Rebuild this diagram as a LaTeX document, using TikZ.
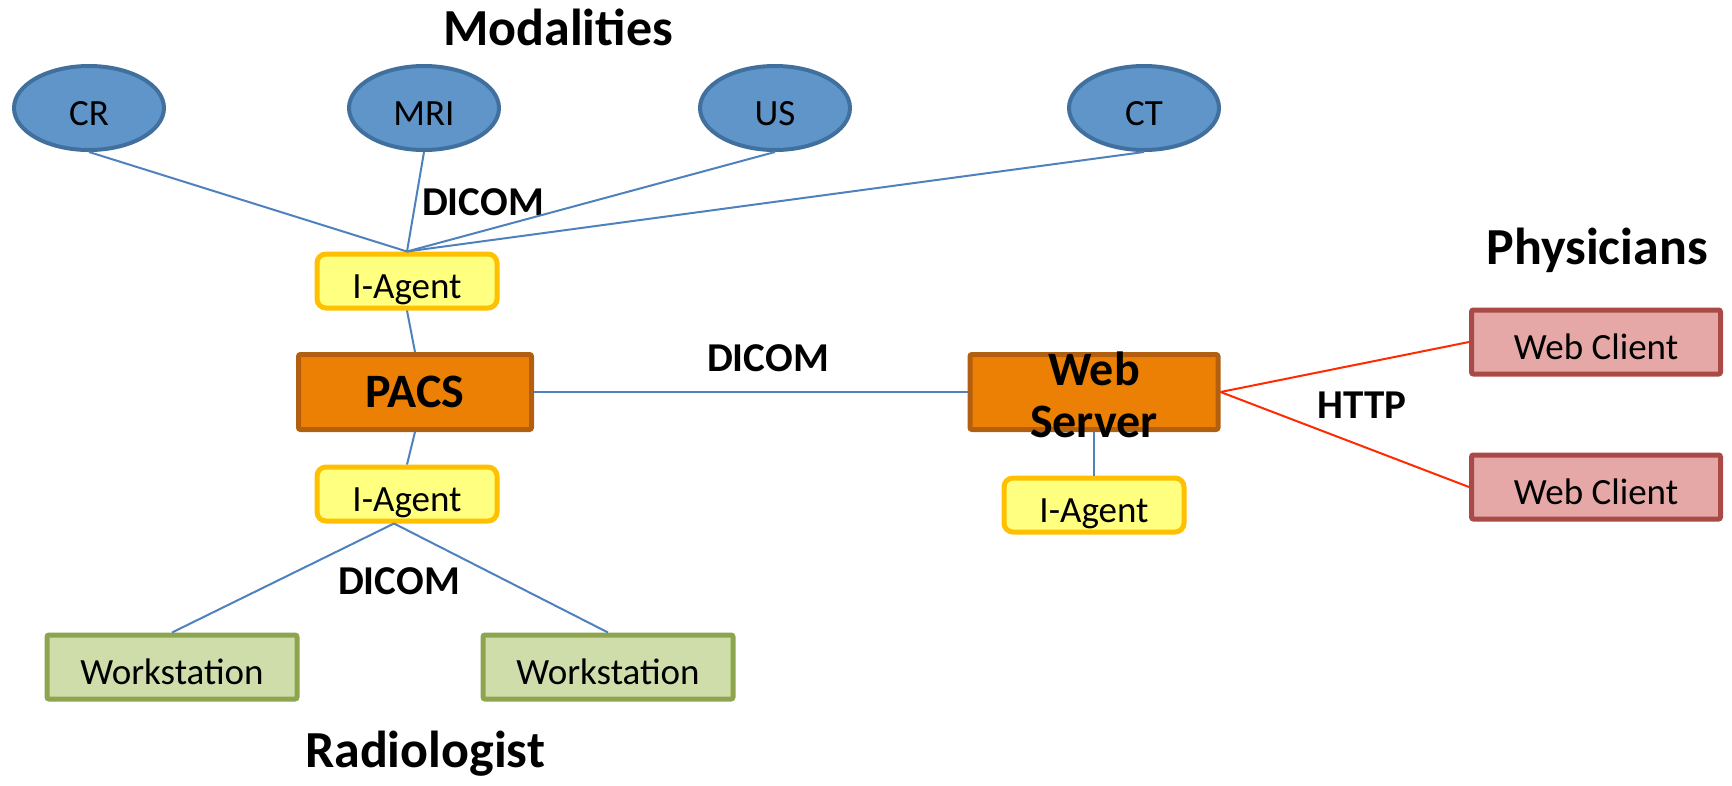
\documentclass[tikz,border=0pt]{standalone}
\usepackage{fontspec}
\setmainfont{Carlito}
\usepackage{tikz}
\usetikzlibrary{shapes.geometric}
\definecolor{modfill}{HTML}{5F95C9}
\definecolor{moddraw}{HTML}{41709E}
\definecolor{linkblue}{HTML}{4F81BD}
\definecolor{httpred}{HTML}{FF2A00}
\definecolor{agentfill}{HTML}{FFFF80}
\definecolor{agentdraw}{HTML}{FFC000}
\definecolor{srvfill}{HTML}{EB8004}
\definecolor{srvdraw}{HTML}{B2600F}
\definecolor{clientfill}{HTML}{E5A8A6}
\definecolor{clientdraw}{HTML}{AA4A47}
\definecolor{wsfill}{HTML}{CFDDAB}
\definecolor{wsdraw}{HTML}{8EA550}
\tikzset{
  lbl/.style={font=\fontsize{37}{44}\selectfont,text height=40pt,text depth=6pt},
  modality/.style={lbl,ellipse,draw=moddraw,fill=modfill,line width=4pt,minimum width=150pt,minimum height=84pt,inner sep=0pt},
  agent/.style={lbl,rectangle,rounded corners=9pt,draw=agentdraw,fill=agentfill,line width=5pt,minimum width=180pt,minimum height=54pt,inner sep=0pt},
  server/.style={rectangle,rounded corners=2pt,draw=srvdraw,fill=srvfill,line width=5pt,minimum width=233pt,minimum height=75pt,inner sep=0pt,font=\bfseries\fontsize{48}{56}\selectfont},
  client/.style={lbl,rectangle,rounded corners=2pt,draw=clientdraw,fill=clientfill,line width=5pt,minimum width=249pt,minimum height=64pt,inner sep=0pt},
  wstation/.style={lbl,rectangle,rounded corners=2pt,draw=wsdraw,fill=wsfill,line width=5pt,minimum width=250pt,minimum height=64pt,inner sep=0pt},
  title/.style={font=\bfseries\fontsize{52}{62}\selectfont},
  proto/.style={font=\bfseries\fontsize{41}{49}\selectfont},
  link/.style={draw=linkblue,line width=2pt},
  weblink/.style={draw=httpred,line width=2pt},
}
\begin{document}
\begin{tikzpicture}[x=1pt,y=1pt]
  \useasboundingbox (0,0) rectangle (1732,-785);

  % modalities
  \node[title] (modtitle) at (558,-27) {Modalities};
  \node[modality] (cr) at (89,-108) {CR};
  \node[modality] (mri) at (424,-108) {MRI};
  \node[modality] (us) at (775,-108) {US};
  \node[modality] (ct) at (1144,-108) {CT};
  \node[proto] (dicomtop) at (483,-202) {DICOM};
  \node[agent] (agenttop) at (407,-281) {I-Agent};

  \draw[link] (cr.south) -- (agenttop.north);
  \draw[link] (mri.south) -- (agenttop.north);
  \draw[link] (us.south) -- (agenttop.north);
  \draw[link] (ct.south) -- (agenttop.north);

  % servers
  \node[server] (pacs) at (415,-392) {PACS};
  \node[proto] (dicommid) at (768,-358) {DICOM};
  \node[server,minimum width=248pt,label={[align=center,yshift=-3pt,font=\bfseries\fontsize{48}{52}\selectfont]center:Web\\Server}] (websrv) at (1094,-392) {};
  \node[agent] (agentweb) at (1094,-505) {I-Agent};
  \draw[link] (agenttop.south) -- (pacs.north);
  \draw[link] (pacs.east) -- (websrv.west);
  \draw[link] (websrv.south) -- (agentweb.north);

  % physicians
  \node[title] (phystitle) at (1597,-250) {Physicians};
  \node[client] (clientA) at (1596,-342) {Web Client};
  \node[client] (clientB) at (1596,-487) {Web Client};
  \node[proto] (http) at (1362,-405) {HTTP};
  \draw[weblink] (websrv.east) -- (clientA.west);
  \draw[weblink] (websrv.east) -- (clientB.west);

  % radiologist
  \node[agent] (agentbot) at (407,-494) {I-Agent};
  \coordinate (fork) at ([xshift=-13pt]agentbot.south);
  \node[proto] (dicombot) at (399,-581) {DICOM};
  \node[wstation] (wsA) at (172,-667) {Workstation};
  \node[wstation] (wsB) at (608,-667) {Workstation};
  \node[title] (radtitle) at (425,-754) {Radiologist};
  \draw[link] (pacs.south) -- (agentbot.north);
  \draw[link] (fork) -- (wsA.north);
  \draw[link] (fork) -- (wsB.north);
\end{tikzpicture}
\end{document}
